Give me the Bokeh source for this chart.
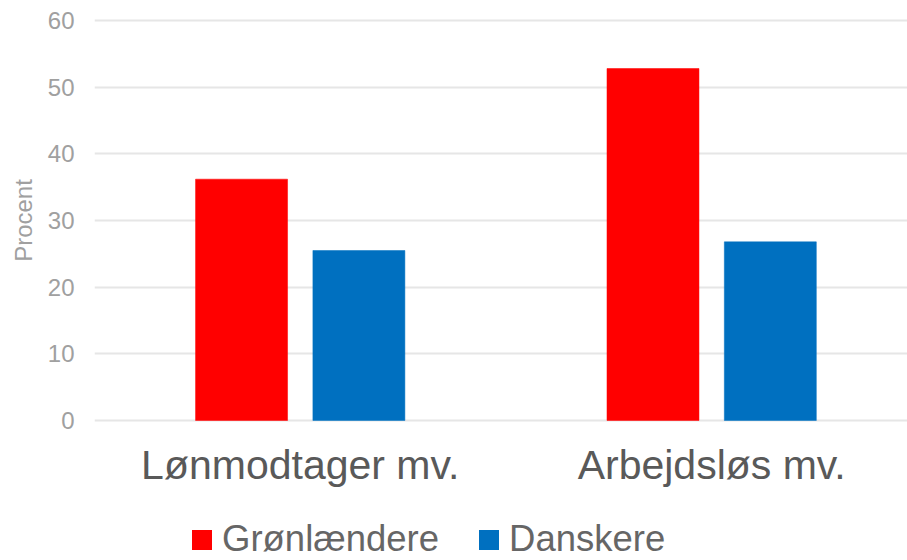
from bokeh.plotting import figure
from bokeh.layouts import column
from bokeh.models import Range1d, FixedTicker, Legend, LegendItem, ColumnDataSource
from bokeh.embed import file_html
from bokeh.resources import INLINE

categories = ["Lønmodtager mv.", "Arbejdsløs mv."]
series_names = ["Grønlændere", "Danskere"]
groenlaendere = [36.2, 52.8]
danskere = [25.5, 26.8]
y_ticks = [0, 10, 20, 30, 40, 50, 60]

FONT = "Liberation Sans"
RED = "#FF0000"
BLUE = "#0070C0"
colors = [RED, BLUE]

n = len(categories)
centers = [i + 0.5 for i in range(n)]
offset = 0.1426
bar_w = 0.2236

src = ColumnDataSource(dict(
    x_red=[c - offset for c in centers],
    x_blue=[c + offset for c in centers],
    g=groenlaendere,
    d=danskere,
))

p = figure(width=907, height=495, output_backend="svg", toolbar_location=None,
           x_range=Range1d(0, 1.976), y_range=Range1d(-0.3, 60.3),
           min_border_left=94, min_border_right=0, min_border_top=18, min_border_bottom=73)
p.outline_line_color = None

p.vbar(x="x_red", top="g", width=bar_w, source=src, fill_color=RED, line_color=RED, line_width=0.5)
p.vbar(x="x_blue", top="d", width=bar_w, source=src, fill_color=BLUE, line_color=BLUE, line_width=0.5)

# grid
p.xgrid.grid_line_color = None
p.ygrid.grid_line_color = "#e6e6e6"
p.ygrid.grid_line_width = 2
p.ygrid.level = "underlay"

# y axis
p.yaxis.ticker = FixedTicker(ticks=y_ticks)
p.yaxis.axis_line_color = None
p.yaxis.major_tick_line_color = None
p.yaxis.minor_tick_line_color = None
p.yaxis.major_label_text_font = FONT
p.yaxis.major_label_text_font_size = "24px"
p.yaxis.major_label_text_color = "#a0a0a0"
p.yaxis.major_label_standoff = 14
p.yaxis.axis_label = "Procent"
p.yaxis.axis_label_text_font = FONT
p.yaxis.axis_label_text_font_size = "24px"
p.yaxis.axis_label_text_font_style = "normal"
p.yaxis.axis_label_text_color = "#a0a0a0"
p.yaxis.axis_label_standoff = 8

# x axis
p.xaxis.ticker = FixedTicker(ticks=centers)
p.xaxis.major_label_overrides = {c: lab for c, lab in zip(centers, categories)}
p.xaxis.axis_line_color = None
p.xaxis.major_tick_line_color = None
p.xaxis.minor_tick_line_color = None
p.xaxis.major_label_text_font = FONT
p.xaxis.major_label_text_font_size = "41px"
p.xaxis.major_label_text_color = "#595959"
p.xaxis.major_label_standoff = 13

# legend figure
lg = figure(width=907, height=65, output_backend="svg", toolbar_location=None,
            x_range=Range1d(0, 1), y_range=Range1d(0, 1),
            min_border_left=0, min_border_right=0, min_border_top=0, min_border_bottom=0)
lg.axis.visible = False
lg.grid.visible = False
lg.outline_line_color = None
far = ColumnDataSource(dict(x=[-10.0], y=[-10.0]))
items = []
for name, col in zip(series_names, colors):
    r = lg.rect(x="x", y="y", width=0.1, height=0.1, source=far, fill_color=col, line_color=None)
    items.append(LegendItem(label=name, renderers=[r]))

legend = Legend(items=items, orientation="horizontal", location=(95, 0))
legend.label_text_font = FONT
legend.label_text_font_size = "36.5px"
legend.label_text_color = "#666666"
legend.glyph_width = 25
legend.glyph_height = 25
legend.label_standoff = 8
legend.spacing = 37
legend.border_line_color = None
legend.background_fill_alpha = 0
legend.padding = 0
legend.margin = 0
lg.add_layout(legend, "center")

layout = column(p, lg, spacing=0)
open("out.html", "w").write(file_html(layout, INLINE))
